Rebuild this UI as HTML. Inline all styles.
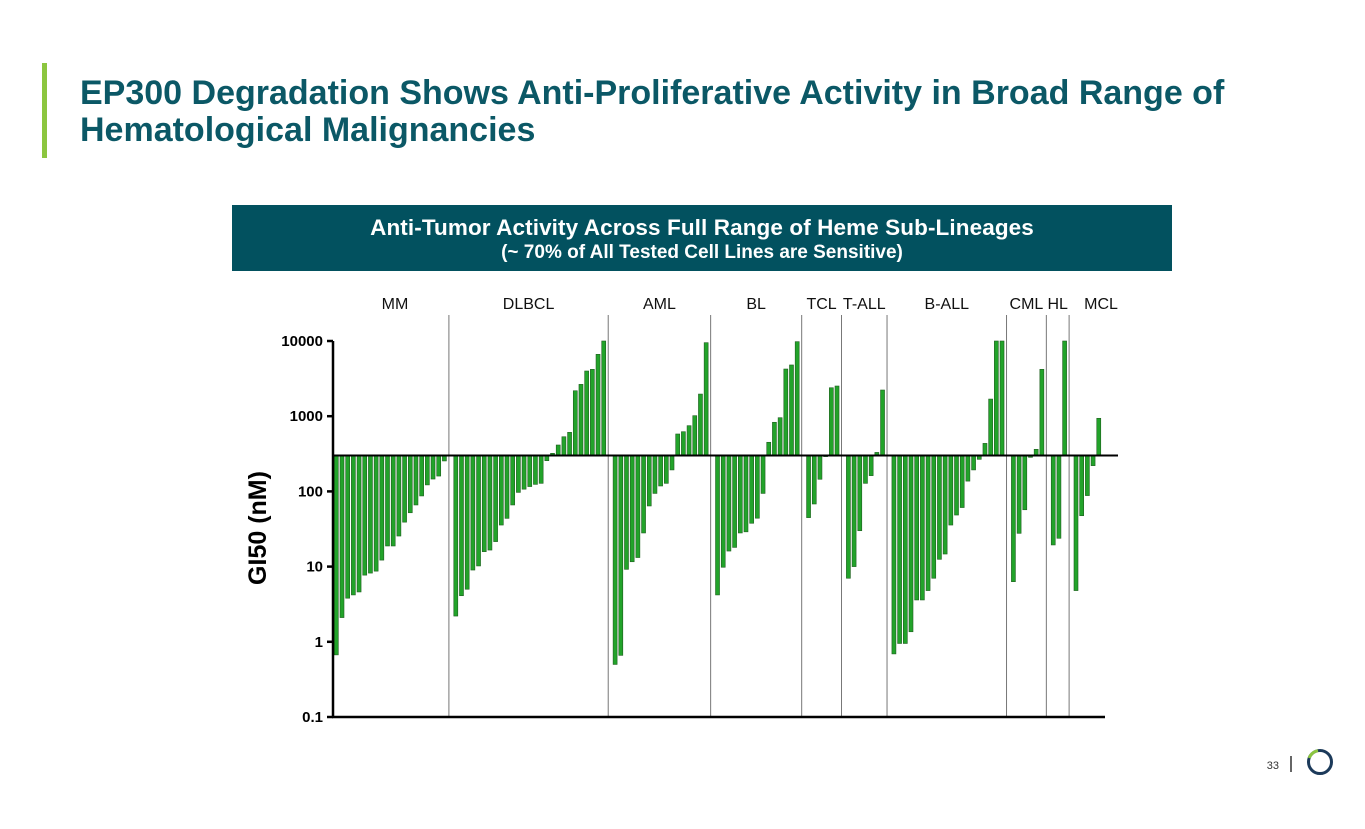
<!DOCTYPE html>
<html><head><meta charset="utf-8"><style>
body{margin:0;width:1365px;height:829px;background:#fff;position:relative;overflow:hidden;font-family:"Liberation Sans",Arial,sans-serif}
.title{position:absolute;left:80px;top:75px;font-size:34px;font-weight:bold;color:#0b5866;line-height:37px}
.accent{position:absolute;left:42px;top:63px;width:5px;height:95px;background:#8cc63f}
.banner{position:absolute;left:232px;top:205px;width:940px;height:66px;background:#02515f;color:#fff;text-align:center;font-weight:bold}
svg{position:absolute;left:0;top:0}
</style></head><body>
<div class="accent"></div>
<div class="title">EP300 Degradation Shows Anti-Proliferative Activity in Broad Range of<br>Hematological Malignancies</div>
<div class="banner"><div style="font-size:22.5px;margin-top:10px;line-height:26px;letter-spacing:0.1px">Anti-Tumor Activity Across Full Range of Heme Sub-Lineages</div><div style="font-size:19px;margin-top:1px;line-height:22px">(~ 70% of All Tested Cell Lines are Sensitive)</div></div>
<svg id="chart" width="1365" height="829">
<text x="1279" y="769" font-size="11" fill="#333" text-anchor="end">33</text>
<line x1="1291" y1="756" x2="1291" y2="772" stroke="#333" stroke-width="1.5"/>
<circle cx="1320" cy="762" r="11.5" fill="none" stroke="#1c3a5a" stroke-width="3"/>
<path d="M1309.2 758 A11.5 11.5 0 0 1 1318 750.7" fill="none" stroke="#8cc63f" stroke-width="3"/>
</svg>
<script>
const groups=["MM","DLBCL","AML","BL","TCL","T-ALL","B-ALL","CML","HL","MCL"];
const mm=[0.67,2.1,3.8,4.2,4.6,7.7,8.2,8.7,12.2,18.8,18.8,25.5,39,52,66,87,122,146,160,254];
const dlbcl=[2.2,4.1,5.0,9.0,10.2,15.8,16.6,21.5,35.7,43.8,66,97,107,116,124,128,256,321,414,533,610,2180,2650,3990,4200,6650,10000];
const aml=[0.5,0.66,9.2,11.6,13.2,28,64,94,118,128,193,580,622,748,1016,1970,9500];
const bl=[4.2,9.8,16.1,18,28,29,37.7,44,94,450,830,955,4240,4800,9800];
const tcl=[44.8,68,145,290,2390,2520];
const tall=[7,10,30,128,162,330,2230];
const ball=[0.69,0.95,0.95,1.36,3.6,3.6,4.8,7,12.5,14.7,35.7,48.5,61,137,193,267,435,1690,10000,10000];
const cml=[6.3,27.7,57,284,363,4200];
const hl=[19.4,23.8,10000];
const mcl=[4.8,47.5,88,220,938];
const series=[mm,dlbcl,aml,bl,tcl,tall,ball,cml,hl,mcl];
const yTicks=[10000,1000,100,10,1,0.1];
const yTickLabels=["10000","1000","100","10","1","0.1"];
const baselineValue=300;

const svg=document.getElementById('chart');
const NS='http://www.w3.org/2000/svg';
const yTop=341,yBot=717;
function y(v){return yTop+(4-Math.log10(v))/5*(yBot-yTop);}
const x0=336.3,pitch=5.69,bw=4;
function x(slot){return x0+slot*pitch;}
function mk(t,a){const e=document.createElementNS(NS,t);for(const k in a)e.setAttribute(k,a[k]);svg.appendChild(e);return e;}
let slot=0;
const yb=y(baselineValue);
let prevSep=333;
series.forEach((arr,gi)=>{
  arr.forEach((v,i)=>{
    const yy=y(v);
    const r=mk('rect',{x:x(slot)-bw/2,y:Math.min(yy,yb),width:bw,height:Math.max(1,Math.abs(yy-yb)),fill:'#22a32a',stroke:'#1f5e1f','stroke-width':0.6});
    
    
    slot++;
  });
  let sx=1118;
  if(gi<series.length-1){
    sx=x(slot)-1.2;
    const s=mk('line',{x1:sx,y1:315,x2:sx,y2:717,stroke:'#777','stroke-width':1});
    
    
    slot++;
  }
  const lx=gi===0?395:(gi===series.length-1?1101:(prevSep+sx)/2);
  const lbl=mk('text',{x:lx,y:309,'font-size':16,'text-anchor':'middle',fill:'#111'});
  lbl.textContent=groups[gi];
  
  
  prevSep=sx;
});
const bl2=mk('line',{x1:333,y1:yb,x2:1118,y2:yb,stroke:'#000','stroke-width':2});


const ya=mk('line',{x1:333,y1:yTop,x2:333,y2:yBot+1,stroke:'#000','stroke-width':2.5});


const xa=mk('line',{x1:332,y1:yBot,x2:1105,y2:yBot,stroke:'#000','stroke-width':2.5});


yTicks.forEach((t,i)=>{
  const tk=mk('line',{x1:327,y1:y(t),x2:333,y2:y(t),stroke:'#000','stroke-width':2.5});
  
  
  const tl=mk('text',{x:323,y:y(t)+5,'font-size':15,'font-weight':'bold','text-anchor':'end',fill:'#000'});
  tl.textContent=yTickLabels[i];
  
  
});
const yt=mk('text',{x:0,y:0,'font-size':25,'font-weight':'bold','text-anchor':'middle',fill:'#000',transform:'translate(266,528) rotate(-90)'});
yt.textContent='GI50 (nM)';


</script>
</body></html>
